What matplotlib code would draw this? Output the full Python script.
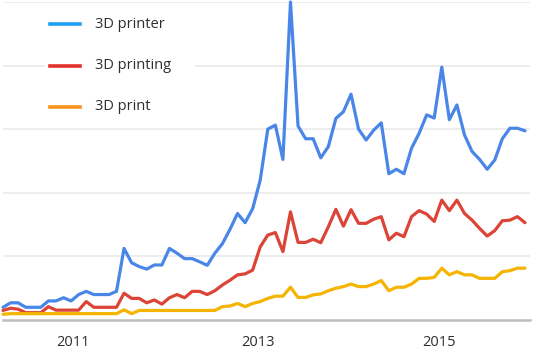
import matplotlib
matplotlib.use('Agg')
import matplotlib.pyplot as plt
from matplotlib.patches import Rectangle
from matplotlib.lines import Line2D
import numpy as np

# monthly search interest, Mar 2010 .. Dec 2015
printer = [4, 5.4, 5.4, 4, 4, 4, 6, 6, 7, 6,
           8, 9, 8, 8, 8, 9, 22.5, 18, 16.8, 16,
           17.3, 17.3, 22.5, 21, 19.3, 19.3, 18.3, 17.2, 21, 24,
           28.5, 33.5, 30.6, 35, 44, 60, 61.3, 50.5, 100, 61,
           57, 57, 51, 54.5, 63.4, 65.5, 71, 60, 56.6, 59.7,
           62, 46, 47.4, 46, 54, 58.7, 64.5, 63.5, 79.5, 63,
           67.6, 58.2, 53, 50.5, 47.4, 50.3, 57, 60.3, 60.3, 59.5]
printing = [3, 3.7, 3.4, 2.3, 2.3, 2.3, 4.2, 3.1, 3.1, 3.1,
            3.1, 5.8, 4, 4, 4, 4, 8.4, 6.8, 6.8, 5.4,
            6.3, 5, 7, 8, 7, 9, 9, 8, 9.2, 11,
            12.5, 14.2, 14.5, 15.7, 23, 26.7, 27.5, 21.5, 34, 24.4,
            24.4, 25.4, 24.3, 29.3, 34.8, 29.5, 34.7, 30.4, 30.4, 31.7,
            32.5, 25.2, 27.3, 26.2, 32.5, 34.4, 33.3, 31, 37.7, 34.4,
            37.7, 33.5, 31.4, 28.8, 26.4, 28.1, 31.2, 31.4, 32.5, 30.6]
prnt = [1.8, 2, 2, 2, 2, 2, 2, 2, 2, 2,
        2, 2, 2, 2, 2, 2, 3.2, 2, 3, 3,
        3, 3, 3, 3, 3, 3, 3, 3, 3, 4.2,
        4.4, 5.2, 4.2, 5.2, 5.8, 6.8, 7.5, 7.5, 10.3, 7.1,
        7.1, 7.9, 8.2, 9.2, 10, 10.5, 11.3, 10.5, 10.5, 11.3,
        12.4, 9.2, 10.3, 10.3, 11.3, 13.1, 13.1, 13.4, 16.3, 14.2,
        15.2, 14.2, 14.2, 13.1, 13.1, 13.1, 15.2, 15.5, 16.3, 16.3]
labels = ['3D printer', '3D printing', '3D print']
year_labels = ['2011', '2013', '2015']
year_pos = [9.3, 33.7, 57.7]

line_colors = ['#4a86e8', '#db4437', '#f4b400']
legend_colors = ['#1e9ff2', '#e2322a', '#f7931e']

fig = plt.figure(figsize=(5.33, 3.52), dpi=100)
ax = fig.add_axes([3 / 533, 32 / 352, 527 / 533, 318 / 352])

x = np.arange(len(printer))
for ys, c in zip([printer, printing, prnt], line_colors):
    ax.plot(x, ys, color=c, lw=2.3, clip_on=False, zorder=3,
            solid_joinstyle='round', solid_capstyle='round')

ax.set_xlim(0, 69.66)
ax.set_ylim(0, 100)
ax.set_yticks([20, 40, 60, 80, 100])
ax.yaxis.grid(True, color='#ececec', lw=1.3)
ax.set_axisbelow(True)
ax.tick_params(axis='y', length=0, labelleft=False)
ax.set_xticks(year_pos)
ax.set_xticklabels(year_labels, fontsize=10.5, color='#2e2e2e', family='Open Sans')
ax.tick_params(axis='x', length=0, pad=11)
for s in ['top', 'right', 'left']:
    ax.spines[s].set_visible(False)
ax.spines['bottom'].set_color('#bdbdbd')
ax.spines['bottom'].set_linewidth(1.8)

# legend drawn by hand, white panel over the grid
fig.add_artist(Rectangle((45 / 533, 1 - 120 / 352), 150 / 533, 110 / 352,
                         transform=fig.transFigure, facecolor='white',
                         edgecolor='none', zorder=2))
for i, (lab, c) in enumerate(zip(labels, legend_colors)):
    yy = 1 - (24 + i * 41.5) / 352
    fig.add_artist(Line2D([50 / 533, 80 / 533], [yy, yy], color=c, lw=2.6,
                          transform=fig.transFigure, zorder=3))
    fig.text(95 / 533, yy, lab, fontsize=10.5, color='#2e2e2e',
             family='Open Sans', va='center', ha='left', zorder=3)

fig.savefig('out.png', dpi=100)
